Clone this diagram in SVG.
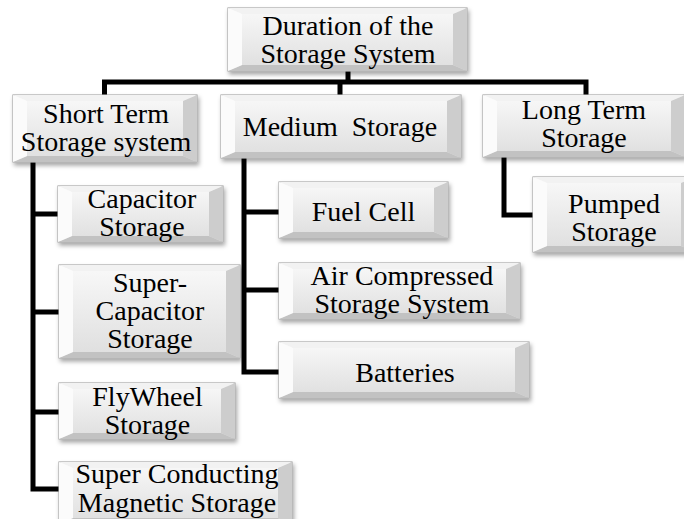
<svg xmlns="http://www.w3.org/2000/svg" width="684" height="519" viewBox="0 0 684 519">
<style>
.base{fill:url(#face);stroke:#a8a8a8;stroke-width:1.2;filter:url(#sh)}
.bt{fill:#f2f2f2}
.bb{fill:#c2c2c2}
.bl{fill:#fbfbfb}
.br{fill:#cdcdcd}
.lbl{font-family:"Liberation Serif","Times New Roman",serif;font-size:28px;fill:#000;text-anchor:middle}
.con{fill:none;stroke:#000;stroke-width:5;stroke-linejoin:miter;stroke-linecap:butt}
</style>
<defs>
<linearGradient id="face" x1="0" y1="0" x2="0" y2="1">
<stop offset="0" stop-color="#f9f9f9"/>
<stop offset="1" stop-color="#dedede"/>
</linearGradient>
<filter id="sh" x="-10%" y="-10%" width="120%" height="140%">
<feDropShadow dx="1.5" dy="3" stdDeviation="2" flood-color="#000" flood-opacity="0.35"/>
</filter>
</defs>
<rect width="684" height="519" fill="#fff"/>
<g id="connectors">
<path class="con" d="M104.5,95 V82 H586 V95"/>
<path class="con" d="M348,71 V82"/>
<path class="con" d="M340,82 V95"/>
<path class="con" d="M33,162 V489 H59"/>
<path class="con" d="M33,214 H58"/>
<path class="con" d="M33,312 H59"/>
<path class="con" d="M33,412 H59"/>
<path class="con" d="M244,158 V372 H279"/>
<path class="con" d="M244,212 H279"/>
<path class="con" d="M244,290 H279"/>
<path class="con" d="M504,157 V215 H533"/>
</g>
<g id="root">
<rect class="base" x="228" y="8" width="239" height="63"/>
<polygon class="bt" points="228,8 467,8 453,14 242,14"/>
<polygon class="bb" points="228,71 467,71 453,65 242,65"/>
<polygon class="bl" points="228,8 242,14 242,65 228,71"/>
<polygon class="br" points="467,8 453,14 453,65 467,71"/>
<text class="lbl" x="348" y="34.5">Duration of the</text>
<text class="lbl" x="348" y="62.5">Storage System</text>
</g>
<g id="short">
<rect class="base" x="13" y="95" width="184" height="67"/>
<polygon class="bt" points="13,95 197,95 183,101 27,101"/>
<polygon class="bb" points="13,162 197,162 183,156 27,156"/>
<polygon class="bl" points="13,95 27,101 27,156 13,162"/>
<polygon class="br" points="197,95 183,101 183,156 197,162"/>
<text class="lbl" x="106" y="123">Short Term</text>
<text class="lbl" x="106" y="151">Storage system</text>
</g>
<g id="medium">
<rect class="base" x="221" y="95" width="240" height="63"/>
<polygon class="bt" points="221,95 461,95 447,101 235,101"/>
<polygon class="bb" points="221,158 461,158 447,152 235,152"/>
<polygon class="bl" points="221,95 235,101 235,152 221,158"/>
<polygon class="br" points="461,95 447,101 447,152 461,158"/>
<text class="lbl" x="340" y="136" xml:space="preserve">Medium  Storage</text>
</g>
<g id="long">
<rect class="base" x="483" y="95" width="202" height="62"/>
<polygon class="bt" points="483,95 685,95 671,101 497,101"/>
<polygon class="bb" points="483,157 685,157 671,151 497,151"/>
<polygon class="bl" points="483,95 497,101 497,151 483,157"/>
<polygon class="br" points="685,95 671,101 671,151 685,157"/>
<text class="lbl" x="584" y="119">Long Term</text>
<text class="lbl" x="584" y="147">Storage</text>
</g>
<g id="capacitor">
<rect class="base" x="58" y="186" width="165" height="56"/>
<polygon class="bt" points="58,186 223,186 209,192 72,192"/>
<polygon class="bb" points="58,242 223,242 209,236 72,236"/>
<polygon class="bl" points="58,186 72,192 72,236 58,242"/>
<polygon class="br" points="223,186 209,192 209,236 223,242"/>
<text class="lbl" x="142" y="208">Capacitor</text>
<text class="lbl" x="142" y="236">Storage</text>
</g>
<g id="supercap">
<rect class="base" x="59" y="265" width="181" height="93"/>
<polygon class="bt" points="59,265 240,265 226,271 73,271"/>
<polygon class="bb" points="59,358 240,358 226,352 73,352"/>
<polygon class="bl" points="59,265 73,271 73,352 59,358"/>
<polygon class="br" points="240,265 226,271 226,352 240,358"/>
<text class="lbl" x="150" y="291.5">Super-</text>
<text class="lbl" x="150" y="319.5">Capacitor</text>
<text class="lbl" x="150" y="347.5">Storage</text>
</g>
<g id="flywheel">
<rect class="base" x="59" y="383" width="176" height="56"/>
<polygon class="bt" points="59,383 235,383 221,389 73,389"/>
<polygon class="bb" points="59,439 235,439 221,433 73,433"/>
<polygon class="bl" points="59,383 73,389 73,433 59,439"/>
<polygon class="br" points="235,383 221,389 221,433 235,439"/>
<text class="lbl" x="147.5" y="405.5">FlyWheel</text>
<text class="lbl" x="147.5" y="433.5">Storage</text>
</g>
<g id="scm">
<rect class="base" x="59" y="462" width="233" height="62"/>
<polygon class="bt" points="59,462 292,462 278,468 73,468"/>
<polygon class="bb" points="59,524 292,524 278,518 73,518"/>
<polygon class="bl" points="59,462 73,468 73,518 59,524"/>
<polygon class="br" points="292,462 278,468 278,518 292,524"/>
<text class="lbl" x="177" y="483">Super Conducting</text>
<text class="lbl" x="177" y="511.5">Magnetic Storage</text>
</g>
<g id="fuel">
<rect class="base" x="279" y="182" width="169" height="56"/>
<polygon class="bt" points="279,182 448,182 434,188 293,188"/>
<polygon class="bb" points="279,238 448,238 434,232 293,232"/>
<polygon class="bl" points="279,182 293,188 293,232 279,238"/>
<polygon class="br" points="448,182 434,188 434,232 448,238"/>
<text class="lbl" x="363.5" y="220.5">Fuel Cell</text>
</g>
<g id="air">
<rect class="base" x="279" y="263" width="241" height="56"/>
<polygon class="bt" points="279,263 520,263 506,269 293,269"/>
<polygon class="bb" points="279,319 520,319 506,313 293,313"/>
<polygon class="bl" points="279,263 293,269 293,313 279,319"/>
<polygon class="br" points="520,263 506,269 506,313 520,319"/>
<text class="lbl" x="402" y="285">Air Compressed</text>
<text class="lbl" x="402" y="313">Storage System</text>
</g>
<g id="batteries">
<rect class="base" x="279" y="342" width="250" height="56"/>
<polygon class="bt" points="279,342 529,342 515,348 293,348"/>
<polygon class="bb" points="279,398 529,398 515,392 293,392"/>
<polygon class="bl" points="279,342 293,348 293,392 279,398"/>
<polygon class="br" points="529,342 515,348 515,392 529,398"/>
<text class="lbl" x="405" y="381.5">Batteries</text>
</g>
<g id="pumped">
<rect class="base" x="533" y="177" width="162" height="75"/>
<polygon class="bt" points="533,177 695,177 681,183 547,183"/>
<polygon class="bb" points="533,252 695,252 681,246 547,246"/>
<polygon class="bl" points="533,177 547,183 547,246 533,252"/>
<polygon class="br" points="695,177 681,183 681,246 695,252"/>
<text class="lbl" x="614" y="212.5">Pumped</text>
<text class="lbl" x="614" y="240.5">Storage</text>
</g>
</svg>
